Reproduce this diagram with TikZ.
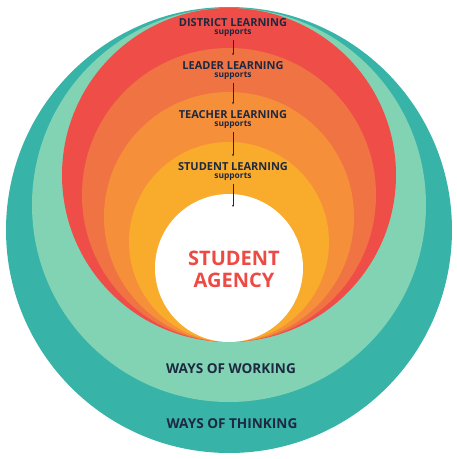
\documentclass[tikz,border=0pt]{standalone}
\usepackage{fontspec}
\setmainfont{Open Sans}
\usetikzlibrary{arrows.meta}

\begin{document}
\begin{tikzpicture}[x=1pt,y=-1pt]
\definecolor{agency_teal}{RGB}{56,179,168}
\definecolor{agency_mint}{RGB}{130,211,180}
\definecolor{agency_red}{RGB}{239,78,72}
\definecolor{agency_coral}{RGB}{240,115,67}
\definecolor{agency_orange}{RGB}{246,143,58}
\definecolor{agency_yellow}{RGB}{249,172,43}
\definecolor{agency_navy}{RGB}{29,41,64}
\definecolor{agency_text}{RGB}{238,74,68}
\tikzset{
  ring/.style={shape=circle,inner sep=0pt,draw=none},
  levelname/.style={inner sep=0pt,text=agency_navy,font=\bfseries\fontsize{11}{13}\selectfont},
  suplabel/.style={inner sep=0pt,text=agency_navy,font=\bfseries\fontsize{8.4}{10}\selectfont},
  waylabel/.style={inner sep=0pt,text=agency_navy,font=\bfseries\fontsize{13.6}{16}\selectfont},
  supline/.style={-{Stealth[length=2.2pt,width=2pt]},line width=0.45pt,color=agency_navy,shorten <=3pt,shorten >=6.5pt}
}
\useasboundingbox (0,0) rectangle (457,459);
% rings, outside in
\node[ring,fill=agency_teal,minimum size=446pt] (thinking) at (229,230) {};
\node[ring,fill=agency_mint,minimum size=394pt] (working) at (229,205) {};
\node[ring,fill=agency_red,minimum size=334pt] (district) at (229,175) {};
\node[ring,fill=agency_coral,minimum size=294pt] (leader) at (229,195) {};
\node[ring,fill=agency_orange,minimum size=250pt] (teacher) at (229,217) {};
\node[ring,fill=agency_yellow,minimum size=200pt] (student) at (229,242) {};
\node[ring,fill=white,minimum size=148pt] (core) at (229,268) {};
% labels
\node[levelname] (districtname) at (233,23) {DISTRICT LEARNING};
\node[suplabel] (sup1) at (233,33) {supports};
\node[levelname] (leadername) at (233,66) {LEADER LEARNING};
\node[suplabel] (sup2) at (233,76) {supports};
\node[levelname] (teachername) at (233,115) {TEACHER LEARNING};
\node[suplabel] (sup3) at (233,125) {supports};
\node[levelname] (studentname) at (233,167) {STUDENT LEARNING};
\node[suplabel] (sup4) at (233,177) {supports};
\coordinate (coretip) at (233,207);
\node[align=center,inner sep=0pt,text=agency_text,font=\bfseries\fontsize{20}{22}\selectfont] (agency) at (234,269) {STUDENT\\AGENCY};
\node[waylabel] (workingname) at (231,369) {WAYS OF WORKING};
\node[waylabel] (thinkingname) at (232,424) {WAYS OF THINKING};
% arrows
\draw[supline] (sup1) to (leadername);
\draw[supline] (sup2) to (teachername);
\draw[supline] (sup3) to (studentname);
\draw[supline,shorten >=0pt] (sup4) to (coretip);
\end{tikzpicture}
\end{document}
